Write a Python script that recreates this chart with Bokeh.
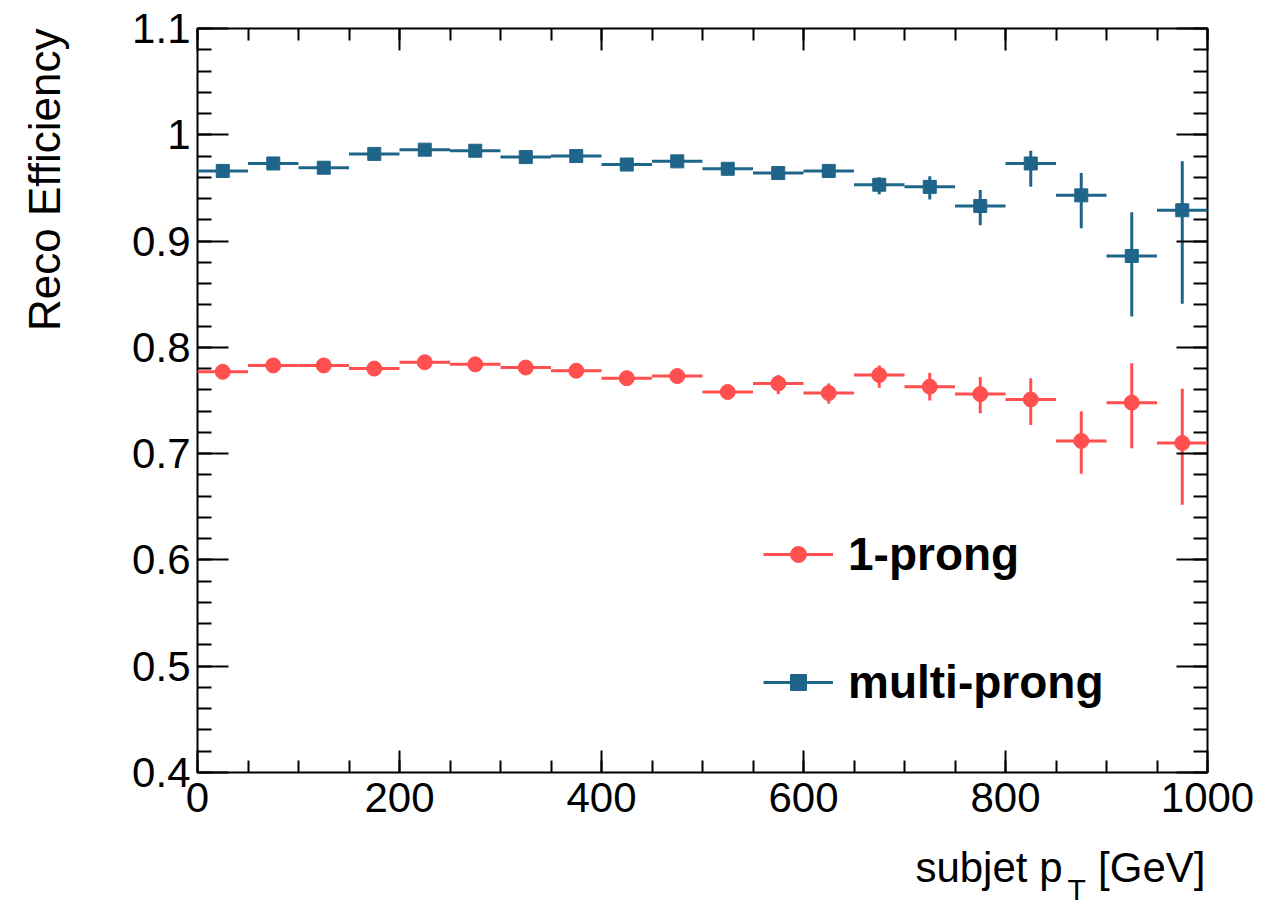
import math
from bokeh.plotting import figure
from bokeh.layouts import row, column
from bokeh.models import (ColumnDataSource, FixedTicker, LinearAxis, Legend, LegendItem,
                          CustomJSTickFormatter, Range1d)
from bokeh.core.properties import value
from bokeh.embed import file_html
from bokeh.resources import INLINE

# ---------------- data ----------------
bin_centers = [25, 75, 125, 175, 225, 275, 325, 375, 425, 475,
               525, 575, 625, 675, 725, 775, 825, 875, 925, 975]
bin_half_width = 25

multi_eff = [0.966, 0.973, 0.969, 0.982, 0.986, 0.985, 0.979, 0.980, 0.972, 0.975,
             0.968, 0.964, 0.966, 0.953, 0.951, 0.933, 0.973, 0.943, 0.886, 0.929]
multi_err_up = [0.003, 0.003, 0.003, 0.002, 0.002, 0.002, 0.003, 0.003, 0.003, 0.003,
                0.004, 0.004, 0.004, 0.007, 0.010, 0.015, 0.012, 0.021, 0.041, 0.046]
multi_err_dn = [0.003, 0.003, 0.003, 0.003, 0.003, 0.003, 0.003, 0.003, 0.004, 0.004,
                0.004, 0.005, 0.005, 0.009, 0.012, 0.018, 0.022, 0.031, 0.057, 0.088]

one_eff = [0.777, 0.783, 0.783, 0.780, 0.786, 0.784, 0.781, 0.778, 0.771, 0.773,
           0.758, 0.766, 0.757, 0.774, 0.763, 0.756, 0.751, 0.712, 0.748, 0.710]
one_err_up = [0.004, 0.004, 0.004, 0.004, 0.004, 0.004, 0.004, 0.005, 0.005, 0.005,
              0.006, 0.008, 0.009, 0.009, 0.013, 0.016, 0.020, 0.028, 0.037, 0.051]
one_err_dn = [0.004, 0.004, 0.004, 0.004, 0.004, 0.004, 0.004, 0.005, 0.005, 0.005,
              0.006, 0.010, 0.010, 0.012, 0.013, 0.018, 0.024, 0.031, 0.043, 0.058]

x_major = [0, 200, 400, 600, 800, 1000]
x_minor = [50 * i for i in range(21)]
y_major = [0.4, 0.5, 0.6, 0.7, 0.8, 0.9, 1.0, 1.1]
y_minor = [round(0.4 + 0.02 * i, 2) for i in range(36)]

y_title = "Reco Efficiency"
x_title_main, x_title_sub, x_title_unit = "subjet p", "T", "[GeV]"

RED = "#ff4f4f"
BLUE = "#1f6489"
FONT = "Liberation Sans"

# ---------------- main figure ----------------
LEFT_W = 100
BOTTOM_H = 70
W, H = 1272 - LEFT_W, 905 - BOTTOM_H
p = figure(width=W, height=H, output_backend="svg", toolbar_location=None,
           x_range=Range1d(0, 1000), y_range=Range1d(0.4, 1.1),
           min_border_left=97, min_border_right=65, min_border_top=28, min_border_bottom=63,
           background_fill_color="white", border_fill_color="white")
p.grid.visible = False
p.outline_line_color = "black"
p.outline_line_width = 2


def style_axis(ax, ticks, minor, major_len, minor_len, labels=True):
    ax.ticker = FixedTicker(ticks=ticks, minor_ticks=minor)
    ax.axis_line_color = None
    ax.major_tick_in = major_len
    ax.major_tick_out = 0
    ax.minor_tick_in = minor_len
    ax.minor_tick_out = 0
    ax.major_tick_line_color = "black"
    ax.minor_tick_line_color = "black"
    ax.major_tick_line_width = 2
    ax.minor_tick_line_width = 2
    if labels:
        ax.major_label_text_font = FONT
        ax.major_label_text_font_size = "42px"
        ax.major_label_text_color = "black"
    else:
        ax.major_label_text_font_size = "0px"
        ax.major_label_text_color = None


xax = p.xaxis[0]
yax = p.yaxis[0]
style_axis(xax, x_major, x_minor, 22, 12)
style_axis(yax, y_major, y_minor, 31, 14)
xax.major_label_standoff = 10
yax.major_label_standoff = 7
yax.formatter = CustomJSTickFormatter(code="return tick.toFixed(1).replace(/\\.0$/, '');")

top = LinearAxis()
style_axis(top, x_major, x_minor, 22, 12, labels=False)
p.add_layout(top, "above")
right = LinearAxis()
style_axis(right, y_major, y_minor, 31, 14, labels=False)
p.add_layout(right, "right")


def series(eff, up, dn, color, marker, size):
    src = ColumnDataSource(dict(
        x=bin_centers,
        y=eff,
        x0=[c - bin_half_width for c in bin_centers],
        x1=[c + bin_half_width for c in bin_centers],
        ylo=[e - s for e, s in zip(eff, dn)],
        yhi=[e + s for e, s in zip(eff, up)],
    ))
    h = p.segment(x0="x0", y0="y", x1="x1", y1="y", source=src, line_color=color, line_width=3)
    p.segment(x0="x", y0="ylo", x1="x", y1="yhi", source=src, line_color=color, line_width=3)
    m = p.scatter(x="x", y="y", source=src, marker=marker, size=size,
                  fill_color=color, line_color=color, line_width=1)
    return [h, m]


r_one = series(one_eff, one_err_up, one_err_dn, RED, "circle", 15)
r_multi = series(multi_eff, multi_err_up, multi_err_dn, BLUE, "square", 13)

legend = Legend(items=[LegendItem(label="1-prong", renderers=r_one),
                       LegendItem(label="multi-prong", renderers=r_multi)],
                location=(566, 63), orientation="vertical",
                background_fill_alpha=0, border_line_color=None,
                label_text_font=FONT, label_text_font_size="46px",
                label_text_font_style="bold", label_text_color="black",
                glyph_width=70, glyph_height=40, label_height=40,
                label_standoff=15, spacing=74, padding=0, margin=0)
p.add_layout(legend, "center")

# ---------------- y-axis title (left strip) ----------------
pl = figure(width=LEFT_W, height=905, output_backend="svg", toolbar_location=None,
            x_range=Range1d(0, LEFT_W), y_range=Range1d(0, 905),
            x_axis_type=None, y_axis_type=None,
            min_border=0, min_border_left=0, min_border_right=0,
            min_border_top=0, min_border_bottom=0,
            outline_line_color=None, background_fill_color="white", border_fill_color="white")
pl.grid.visible = False
pl.text(x=[44], y=[877], text=[y_title], angle=math.pi / 2,
        text_align="right", text_baseline="alphabetic",
        text_font=value(FONT), text_font_size="44px", text_color="black")

# ---------------- x-axis title (bottom strip; frame aligns with main frame) ----------------
pb = figure(width=W, height=BOTTOM_H, output_backend="svg", toolbar_location=None,
            x_range=Range1d(197, 1207), y_range=Range1d(0, BOTTOM_H),
            x_axis_type=None, y_axis_type=None,
            min_border=0, min_border_left=0, min_border_right=0,
            min_border_top=0, min_border_bottom=0,
            outline_line_color=None, background_fill_color="white", border_fill_color="white")
pb.grid.visible = False
pb.text(x=[1062], y=[38], text=[x_title_main], text_align="right", text_baseline="alphabetic",
        text_font=value(FONT), text_font_size="42px", text_color="black")
pb.text(x=[1067], y=[16], text=[x_title_sub], text_align="left", text_baseline="alphabetic",
        text_font=value(FONT), text_font_size="30px", text_color="black")
pb.text(x=[1205], y=[38], text=[x_title_unit], text_align="right", text_baseline="alphabetic",
        text_font=value(FONT), text_font_size="42px", text_color="black")

layout = row(pl, column(p, pb, spacing=0), spacing=0)
open("out.html", "w").write(file_html(layout, INLINE))
